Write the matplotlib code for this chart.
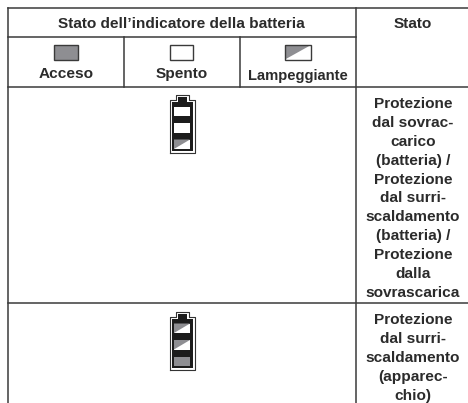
import matplotlib
matplotlib.use('Agg')
import matplotlib.pyplot as plt
from matplotlib.patches import Rectangle, Polygon

plt.rcParams['font.family'] = ['Liberation Sans', 'DejaVu Sans']

INK = '#3a3a3a'
GREY = '#8e8e92'

header = "Stato dell\u2019indicatore della batteria"
header_right = "Stato"
legend_labels = ["Acceso", "Spento", "Lampeggiante"]
legend_states = ["on", "off", "blink"]

status_one = ["Protezione", "dal sovrac-", "carico", "(batteria) /", "Protezione",
              "dal surri-", "scaldamento", "(batteria) /", "Protezione", "dalla",
              "sovrascarica"]
status_two = ["Protezione", "dal surri-", "scaldamento", "(apparec-", "chio)"]

battery_one = ["off", "off", "blink"]
battery_two = ["blink", "blink", "on"]


def light(ax, x, y, w, h, state, edge=None, lw=1.0):
    # one indicator light, blink is half grey half white on the diagonal
    face = GREY if state == "on" else "white"
    ax.add_patch(Rectangle((x, y), w, h, fc=face, ec="none", zorder=3))
    if state == "blink":
        ax.add_patch(Polygon([(x, y), (x + w, y), (x, y + h)], fc=GREY, ec="none", zorder=3))
    if edge:
        ax.add_patch(Rectangle((x, y), w, h, fc="none", ec=edge, lw=lw, zorder=4))


def battery(ax, x, y, states):
    # thin outline with a small cap, black body inside, three lights
    w, h = 25, 58
    ax.plot([x, x, x + 6, x + 6, x + w - 6, x + w - 6, x + w, x + w, x],
            [y + h, y + 5, y + 5, y, y, y + 5, y + 5, y + h, y + h],
            color="#333333", lw=0.8, zorder=2)
    ax.add_patch(Rectangle((x + 2, y + 7), w - 4, h - 9, fc="#1c1c1c", ec="none", zorder=2))
    ax.add_patch(Rectangle((x + 8, y + 2), w - 16, 6, fc="#1c1c1c", ec="none", zorder=2))
    for i, state in enumerate(states):
        light(ax, x + 4.5, y + 11.5 + i * 16.5, w - 9, 9.5, state)


fig = plt.figure(figsize=(4.68, 4.03), dpi=100)
ax = fig.add_axes([0, 0, 1, 1])
ax.set_xlim(0, 468)
ax.set_ylim(403, 0)
ax.axis('off')

# table rules
ax.plot([8, 468], [8, 8], color=INK, lw=1.1)
ax.plot([8, 355.5], [36.5, 36.5], color=INK, lw=1.1)
for y0 in [87, 303]:
    ax.plot([8, 468], [y0, y0], color=INK, lw=1.1)
ax.plot([8, 8], [8, 403], color=INK, lw=1.1)
ax.plot([355.5, 355.5], [8, 403], color=INK, lw=1.1)
ax.plot([124, 124], [36.5, 87], color=INK, lw=1.1)
ax.plot([240, 240], [36.5, 87], color=INK, lw=1.1)

txt = dict(fontweight='bold', color='#2b2b2b', fontsize=11.1, ha='center', va='baseline')
ax.text(181.5, 28, header, **txt)
ax.text(413, 28, header_right, **txt)

# legend row
for cx, lab, st, tw, ly, fs in zip([66, 181.5, 298], legend_labels, legend_states,
                                   [24, 23, 26], [78, 78, 80], [11.1, 11.1, 10.6]):
    light(ax, cx - tw / 2, 45, tw, 14.5, st, edge=INK)
    ax.text(cx, ly, lab, **{**txt, 'fontsize': fs})

battery(ax, 169.5, 95, battery_one)
battery(ax, 169.5, 312, battery_two)

for i, line in enumerate(status_one):
    ax.text(413, 108 + i * 18.9, line, **txt)
for i, line in enumerate(status_two):
    ax.text(413, 324.5 + i * 18.9, line, **txt)

fig.savefig('out.png', dpi=100)
